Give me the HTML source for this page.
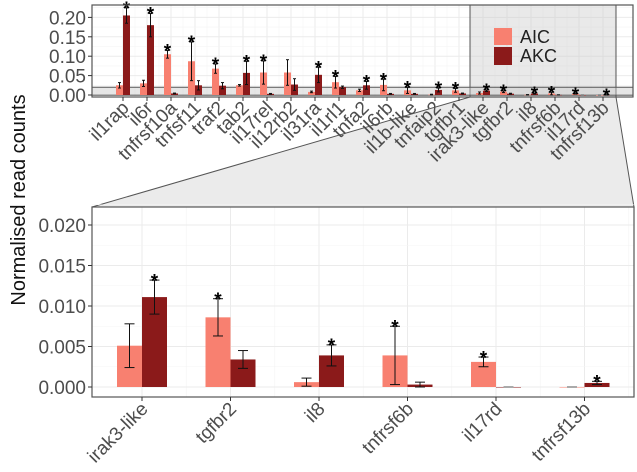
<!DOCTYPE html>
<html><head><meta charset="utf-8"><style>
html,body{margin:0;padding:0;background:#fff;}
svg{display:block;font-family:"Liberation Sans",Arial,sans-serif;}
</style></head><body>
<svg id="chart" width="637" height="472" viewBox="0 0 637 472" xmlns="http://www.w3.org/2000/svg">
</svg>
<script>
const genes = ["il1rap","il6r","tnfrsf10a","tnfsf11","traf2","tab2","il17rel","il12rb2","il31ra","il1rl1","tnfa2","il6rb","il1b-like","tnfaip2","tgfbr1","irak3-like","tgfbr2","il8","tnfrsf6b","il17rd","tnfrsf13b"];
const aicValues = [0.025,0.030,0.105,0.087,0.068,0.025,0.058,0.058,0.008,0.033,0.012,0.026,0.012,0.001,0.012,0.0051,0.0086,0.0006,0.0039,0.0031,0.0];
const aicErrors = [0.007,0.008,0.010,0.050,0.012,0.002,0.030,0.033,0.002,0.015,0.003,0.015,0.008,0.001,0.005,0.0027,0.0023,0.0005,0.0036,0.0006,0.0];
const akcValues = [0.205,0.180,0.004,0.025,0.024,0.057,0.003,0.027,0.052,0.020,0.025,0.003,0.003,0.013,0.004,0.0111,0.0034,0.0039,0.0003,0.0,0.0005];
const akcErrors = [0.020,0.030,0.001,0.012,0.008,0.030,0.001,0.015,0.020,0.003,0.010,0.001,0.001,0.005,0.001,0.0021,0.0011,0.0013,0.0003,0.0,0.0002];
const significance = ["AKC","AKC","AIC","AIC","AIC","AKC","AIC","","AKC","AIC","AKC","AIC","AIC","AKC","AIC","AKC","AIC","AKC","AIC","AIC","AKC"];
const topTicks = [0,0.05,0.10,0.15,0.20];
const topTickLabels = ["0.00","0.05","0.10","0.15","0.20"];
const bottomTicks = [0,0.005,0.010,0.015,0.020];
const bottomTickLabels = ["0.000","0.005","0.010","0.015","0.020"];
const zoomStart = 15;

const NS="http://www.w3.org/2000/svg";
const svg=document.getElementById('chart');
function mk(tag,attrs,parent){const e=document.createElementNS(NS,tag);for(const k in attrs)e.setAttribute(k,attrs[k]);(parent||svg).appendChild(e);return e;}
const AIC="#f88070", AKC="#8b1a1a";

const tx=i=>123+24*i;
const ty=v=>95-v*388;
const bx=i=>142+88.5*(i-zoomStart);
const by=v=>387-v*8100;

let e=mk('polygon',{points:"470,97 616,97 634,207 92,207",fill:"#ebebeb",stroke:"#555","stroke-width":1});



function panel(x0,y0,x1,y1,name){
  const g=mk('g',{});
  
  
  mk('rect',{x:x0,y:y0,width:x1-x0,height:y1-y0,fill:"#fff"},g);
  return g;
}
const gt=panel(92,5,633,97,'overview-panel');
for(let i=0;i<genes.length;i++){mk('line',{x1:tx(i),x2:tx(i),y1:5,y2:97,stroke:"#ebebeb","stroke-width":1},gt);mk('line',{x1:tx(i)+12,x2:tx(i)+12,y1:5,y2:97,stroke:"#f4f4f4","stroke-width":0.6},gt);}
topTicks.forEach(v=>{mk('line',{x1:92,x2:633,y1:ty(v),y2:ty(v),stroke:"#ebebeb"},gt);mk('line',{x1:92,x2:633,y1:ty(v+0.025),y2:ty(v+0.025),stroke:"#f4f4f4","stroke-width":0.6},gt);});
e=mk('rect',{x:470,y:5,width:146,height:92,fill:"rgba(200,200,200,0.4)",stroke:"#555","stroke-width":1},gt);

e=mk('rect',{x:92,y:ty(0.02),width:541,height:ty(-0.0005)-ty(0.02),fill:"rgba(200,200,200,0.45)",stroke:"#555","stroke-width":1},gt);


function bars(g,xf,yf,w,from,to,errCap,starSize){
  for(let i=from;i<to;i++){
    const c=xf(i);
    [[aicValues,aicErrors,AIC,-w,'aic'],[akcValues,akcErrors,AKC,0,'akc']].forEach(([vals,errs,col,off,s])=>{
      const v=vals[i],er=errs[i];
      let r=mk('rect',{x:c+off,y:yf(v),width:w,height:Math.max(0.5,yf(0)-yf(v)),fill:col},g);
      
      
      const mx=c+off+w/2;
      if(er>0){
        mk('line',{x1:mx,x2:mx,y1:yf(v+er),y2:yf(Math.max(0,v-er)),stroke:"#111","stroke-width":1},g);
        mk('line',{x1:mx-errCap,x2:mx+errCap,y1:yf(v+er),y2:yf(v+er),stroke:"#111","stroke-width":1},g);
        mk('line',{x1:mx-errCap,x2:mx+errCap,y1:yf(Math.max(0,v-er)),y2:yf(Math.max(0,v-er)),stroke:"#111","stroke-width":1},g);
      } else {
        mk('line',{x1:mx-errCap,x2:mx+errCap,y1:yf(0),y2:yf(0),stroke:"#555","stroke-width":1},g);
      }
      if(significance[i]===s.toUpperCase()){
        const t=mk('text',{x:mx,y:yf(v+er)+starSize*0.38,"text-anchor":"middle","font-size":starSize,"font-weight":"bold",fill:"#000"},g);
        t.textContent="*";
        
        
      }
    });
  }
}
bars(gt,tx,ty,7,0,genes.length,1.5,19);
mk('rect',{x:92,y:5,width:541,height:92,fill:"none",stroke:"#555","stroke-width":1.2},gt);
topTicks.forEach((v,k)=>{
  mk('line',{x1:88,x2:92,y1:ty(v),y2:ty(v),stroke:"#333"});
  const t=mk('text',{x:86,y:ty(v)+7,"text-anchor":"end","font-size":19,fill:"#4d4d4d"});
  t.textContent=topTickLabels[k];
  
  
});
genes.forEach((gname,i)=>{
  mk('line',{x1:tx(i),x2:tx(i),y1:97,y2:101,stroke:"#333"});
  const t=mk('text',{x:tx(i)+7,y:109,"text-anchor":"end","font-size":19,fill:"#4d4d4d",transform:`rotate(-45 ${tx(i)+7} 109)`});
  t.textContent=gname;
  
  
});
const lg=mk('g',{});


mk('rect',{x:494,y:28,width:18,height:17,fill:AIC},lg);
mk('rect',{x:494,y:47,width:18,height:18,fill:AKC},lg);
let lt=mk('text',{x:520,y:43,"font-size":18,fill:"#222"},lg);lt.textContent="AIC";

lt=mk('text',{x:520,y:62,"font-size":18,fill:"#222"},lg);lt.textContent="AKC";


const gb=panel(92,207,634,397,'detail-panel');
for(let i=zoomStart;i<genes.length;i++){mk('line',{x1:bx(i),x2:bx(i),y1:207,y2:397,stroke:"#ebebeb"},gb);mk('line',{x1:bx(i)+44.25,x2:bx(i)+44.25,y1:207,y2:397,stroke:"#f4f4f4","stroke-width":0.6},gb);}
bottomTicks.forEach(v=>{mk('line',{x1:92,x2:634,y1:by(v),y2:by(v),stroke:"#ebebeb"},gb);mk('line',{x1:92,x2:634,y1:by(v+0.0025),y2:by(v+0.0025),stroke:"#f4f4f4","stroke-width":0.6},gb);});
bars(gb,bx,by,25,zoomStart,genes.length,5,19);
mk('rect',{x:92,y:207,width:542,height:190,fill:"none",stroke:"#555","stroke-width":1.2},gb);
bottomTicks.forEach((v,k)=>{
  mk('line',{x1:88,x2:92,y1:by(v),y2:by(v),stroke:"#333"});
  const t=mk('text',{x:86,y:by(v)+7,"text-anchor":"end","font-size":19,fill:"#4d4d4d"});
  t.textContent=bottomTickLabels[k];
  
  
});
for(let i=zoomStart;i<genes.length;i++){
  mk('line',{x1:bx(i),x2:bx(i),y1:397,y2:401,stroke:"#333"});
  const t=mk('text',{x:bx(i)+7,y:410,"text-anchor":"end","font-size":19,fill:"#4d4d4d",transform:`rotate(-45 ${bx(i)+7} 410)`});
  t.textContent=genes[i];
  
  
}
const yt=mk('text',{x:25,y:200,"text-anchor":"middle","font-size":20,fill:"#111",transform:"rotate(-90 25 200)"});
yt.textContent="Normalised read counts";


</script>
</body></html>
